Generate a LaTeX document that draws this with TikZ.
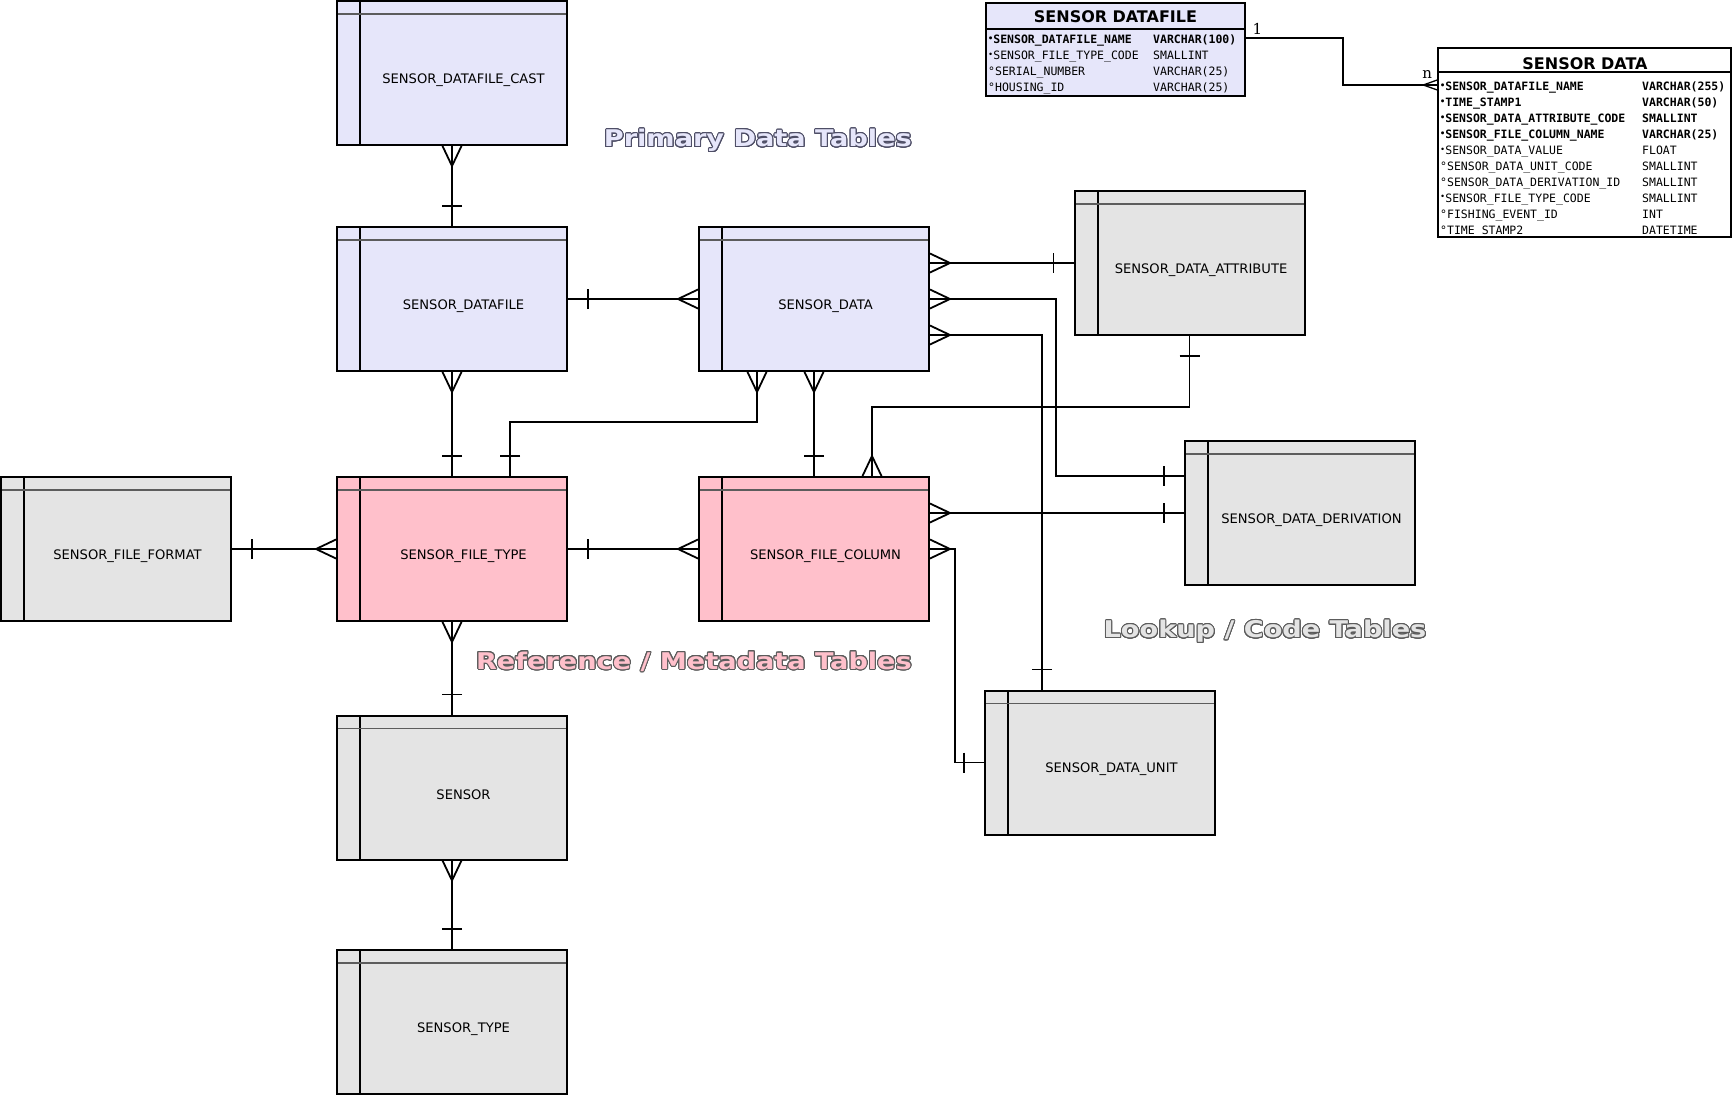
\documentclass[tikz,border=0pt]{standalone}
\usepackage{fontspec}
\setsansfont{DejaVu Sans}
\setmonofont{DejaVu Sans Mono}
\newfontfamily\bannerfont[FakeStretch=1.18]{DejaVu Sans Bold}
\newfontfamily\cardfont{DejaVu Serif}
\usepackage{contour}
\contourlength{1pt}
\contournumber{24}
\usetikzlibrary{calc, decorations.markings}

\definecolor{primary}{HTML}{E6E6FA}
\definecolor{reference}{HTML}{FFC0CB}
\definecolor{lookup}{HTML}{E4E4E4}
\definecolor{rim}{HTML}{5C5C5C}
\definecolor{rimblue}{HTML}{4E4E66}

\newcommand\req{\raisebox{2.5pt}{\fontsize{8.5}{8.5}\selectfont •}}
\newcommand\opt{°}

\tikzset{
  erd/.style={draw, line width=2pt, minimum width=230, minimum height=144, inner sep=0pt,
    path picture={
      \draw[line width=2pt] ([xshift=23pt]path picture bounding box.north west) -- ([xshift=23pt]path picture bounding box.south west);
      \draw[rim, line width=1.6pt] ([yshift=-13pt]path picture bounding box.north west) -- ([yshift=-13pt]path picture bounding box.north east);
    }},
  tname/.style={font=\sffamily\fontsize{13.1}{14}\selectfont, xshift=11.5pt, yshift=-7pt, inner sep=0pt},
  rel/.style={line width=1.8pt, postaction={decorate, decoration={markings,
      mark=at position 0 with {\draw[line width=1.8pt] (20pt,-10pt) -- (20pt,10pt);},
      mark=at position 1 with {\draw[line width=1.8pt] (0pt,9.5pt) -- (-20pt,0pt) -- (0pt,-9.5pt);}}}},
  sheet/.style={draw, line width=1.5pt, inner sep=0pt},
  ttl/.style={font=\sffamily\bfseries\fontsize{16}{17}\selectfont, inner sep=0pt},
  row/.style={font=\ttfamily\fontsize{11.5}{12}\selectfont, inner sep=0pt, anchor=base west},
  link/.style={line width=1.5pt, postaction={decorate, decoration={markings,
      mark=at position 1 with {\draw[line width=1.3pt] (0pt,5pt) -- (-14pt,0pt) -- (0pt,-5pt);}}}},
  card/.style={font=\cardfont\fontsize{15}{15}\selectfont, inner sep=2pt},
  banner/.style={font=\bannerfont\fontsize{23}{24}\selectfont, inner sep=0pt}
}

\begin{document}
\begin{tikzpicture}[x=1pt, y=-1pt]
	\useasboundingbox (0,0) rectangle (1732,1095);
	% primary data tables
	\node[erd, fill=primary, label={[tname]center:SENSOR\_DATAFILE\_CAST}] (cast) at (452,73) {};
	\node[erd, fill=primary, label={[tname]center:SENSOR\_DATAFILE}] (dfile) at (452,299) {};
	\node[erd, fill=primary, label={[tname]center:SENSOR\_DATA}] (sdata) at (814,299) {};
	% reference / metadata tables
	\node[erd, fill=reference, label={[tname]center:SENSOR\_FILE\_TYPE}] (ftype) at (452,549) {};
	\node[erd, fill=reference, label={[tname]center:SENSOR\_FILE\_COLUMN}] (fcol) at (814,549) {};
	% lookup / code tables
	\node[erd, fill=lookup, label={[tname]center:SENSOR\_FILE\_FORMAT}] (format) at (116,549) {};
	\node[erd, fill=lookup, label={[tname]center:SENSOR\_DATA\_ATTRIBUTE}] (attr) at (1189.5,263) {};
	\node[erd, fill=lookup, label={[tname]center:SENSOR\_DATA\_DERIVATION}] (deriv) at (1300,513) {};
	\node[erd, fill=lookup, label={[tname]center:SENSOR\_DATA\_UNIT}] (unit) at (1100,762.5) {};
	\node[erd, fill=lookup, label={[tname]center:SENSOR}] (sensor) at (452,787.5) {};
	\node[erd, fill=lookup, label={[tname]center:SENSOR\_TYPE}] (stype) at (452,1022) {};

	% relations, drawn from the "one" side to the "many" side
	\draw[rel] (dfile.north) -- (cast.south);
	\draw[rel] (dfile.east) -- (sdata.west);
	\draw[rel] (attr.west) -- (attr.west -| sdata.east);
	\draw[rel] ([yshift=-36pt]deriv.north west) -- ++(-128,0) |- (sdata.east);
	\draw[rel] ([xshift=-58pt]unit.north) |- ([yshift=-36pt]sdata.east);
	\draw[rel] ([xshift=58pt]ftype.north) -- ++(0,-54) -| ([xshift=-57pt]sdata.south);
	\draw[rel] (fcol.north) -- (sdata.south);
	\draw[rel] (attr.south) -- ++(0,71) -| ([xshift=58pt]fcol.north);
	\draw[rel] (ftype.north) -- (dfile.south);
	\draw[rel] (format.east) -- (ftype.west);
	\draw[rel] (ftype.east) -- (fcol.west);
	\draw[rel] (sensor.north) -- (ftype.south);
	\draw[rel] (stype.north) -- (sensor.south);
	\draw[rel] (deriv.west) -- (deriv.west -| fcol.east);
	\draw[rel] (unit.west) -- ++(-29,0) |- (fcol.east);

	% group titles
	\node[banner, text=primary, anchor=east] (primary) at (912,141) {\contour{rimblue}{Primary Data Tables}};
	\node[banner, text=reference, anchor=east] (reference) at (912,662) {\contour{rim}{Reference / Metadata Tables}};
	\node[banner, text=lookup] (lookup) at (1265,632) {\contour{rim}{Lookup / Code Tables}};

	% column lists
	\node[sheet, fill=primary, minimum width=259, minimum height=93] (sdf) at (1115.5,49.5) {};
	\node[ttl] (sdf-t) at (1115.5,17) {SENSOR\,\,DATAFILE};
	\draw[line width=1.2pt] (sdf.west |- 0,29) -- (sdf.east |- 0,29);
	\foreach \f/\m/\n/\t [count=\r] in {
		\bfseries/\req/SENSOR\_DATAFILE\_NAME/VARCHAR(100),
		\mdseries/\req/SENSOR\_FILE\_TYPE\_CODE/SMALLINT,
		\mdseries/\opt/SERIAL\_NUMBER/VARCHAR(25),
		\mdseries/\opt/HOUSING\_ID/VARCHAR(25)} {
		\node[row] (sdf-r\r) at (988,{28+15.8*\r}) {\f\m\n};
		\node[row] (sdf-y\r) at (1153,{28+15.8*\r}) {\f\t};
	}

	\node[sheet, fill=white, minimum width=293, minimum height=189] (sd) at (1584.5,142.5) {};
	\node[ttl] (sd-t) at (1585,64) {SENSOR\,\,DATA};
	\draw[line width=1.2pt] (sd.west |- 0,72) -- (sd.east |- 0,72);
	\foreach \f/\m/\n/\t [count=\r] in {
		\bfseries/\req/SENSOR\_DATAFILE\_NAME/VARCHAR(255),
		\bfseries/\req/TIME\_STAMP1/VARCHAR(50),
		\bfseries/\req/SENSOR\_DATA\_ATTRIBUTE\_CODE/SMALLINT,
		\bfseries/\req/SENSOR\_FILE\_COLUMN\_NAME/VARCHAR(25),
		\mdseries/\req/SENSOR\_DATA\_VALUE/FLOAT,
		\mdseries/\opt/SENSOR\_DATA\_UNIT\_CODE/SMALLINT,
		\mdseries/\opt/SENSOR\_DATA\_DERIVATION\_ID/SMALLINT,
		\mdseries/\req/SENSOR\_FILE\_TYPE\_CODE/SMALLINT,
		\mdseries/\opt/FISHING\_EVENT\_ID/INT,
		\mdseries/\opt/TIME\_STAMP2/DATETIME} {
		\node[row] (sd-r\r) at (1440,{75+15.9*\r}) {\f\m\n};
		\node[row] (sd-y\r) at (1642,{75+15.9*\r}) {\f\t};
	}

	\draw[link] ([yshift=3pt]sdf.east |- sdf-r1) node[card, anchor=south west, xshift=4pt, yshift=1pt] (one) {1}
		-- ++(97,0) |- ([yshift=3pt]sd.west |- sd-r1) node[card, anchor=south, xshift=-10pt, yshift=4pt] (many) {n};
\end{tikzpicture}
\end{document}
